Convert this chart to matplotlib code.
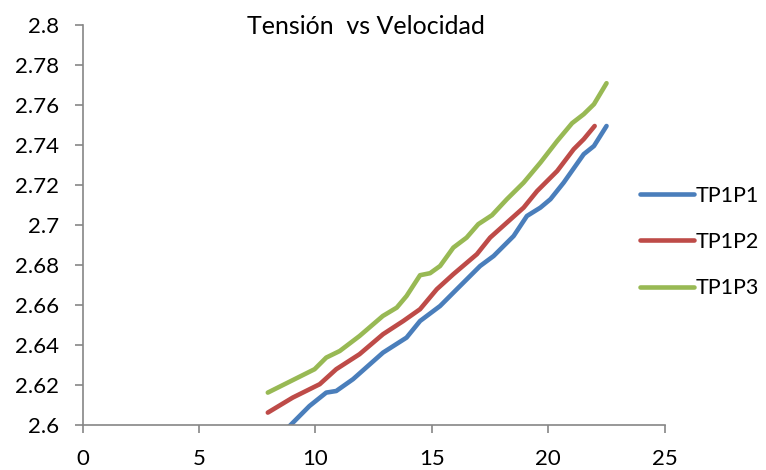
import matplotlib
matplotlib.use('Agg')
import matplotlib.pyplot as plt
from matplotlib.ticker import FuncFormatter

# datos
x_p1 = [8.0, 9.75, 10.47, 10.9, 11.62, 12.91, 13.92, 14.5, 15.36, 16.08, 17.08, 17.66,
        18.52, 19.09, 19.67, 20.1, 20.67, 21.53, 21.97, 22.51]
y_p1 = [2.589, 2.6095, 2.6162, 2.617, 2.6229, 2.6362, 2.6437, 2.652, 2.6595, 2.6679, 2.6795, 2.6845,
        2.6945, 2.7045, 2.7087, 2.7129, 2.7212, 2.7354, 2.7395, 2.7495]

x_p2 = [7.96, 9.03, 10.19, 10.9, 11.9, 12.91, 13.78, 14.5, 15.22, 15.93, 16.94, 17.51,
        18.23, 18.95, 19.53, 20.39, 21.1, 21.53, 22.0]
y_p2 = [2.6062, 2.6137, 2.6204, 2.6279, 2.6354, 2.6454, 2.652, 2.6579, 2.6679, 2.6754, 2.6854, 2.6937,
        2.7012, 2.7087, 2.717, 2.727, 2.7379, 2.7429, 2.7495]

x_p3 = [7.96, 9.97, 10.47, 11.05, 11.9, 12.9, 13.5, 13.92, 14.5, 14.93, 15.36, 15.93, 16.5,
        17.0, 17.59, 18.23, 18.95, 19.67, 20.39, 21.03, 21.53, 21.97, 22.51]
y_p3 = [2.6162, 2.6279, 2.6337, 2.637, 2.6445, 2.6545, 2.6587, 2.6645, 2.6749, 2.6759, 2.6795, 2.6887, 2.6937,
        2.7004, 2.7049, 2.7129, 2.7212, 2.7312, 2.742, 2.7509, 2.7554, 2.7604, 2.7709]

series = [('TP1P1', x_p1, y_p1, '#4a7ebb'),
          ('TP1P2', x_p2, y_p2, '#be4b48'),
          ('TP1P3', x_p3, y_p3, '#98b954')]

plt.rcParams['font.family'] = ['Lato', 'DejaVu Sans']

fig = plt.figure(figsize=(7.66, 4.70), dpi=100)
# ejes: x de 82.5 a 664.5 px, y de 25 a 425 px
ax = fig.add_axes([82.5 / 766, 1 - 425 / 470, 582 / 766, 400 / 470])

for name, xs, ys, c in series:
    ax.plot(xs, ys, color=c, lw=3.3, label=name, solid_capstyle='round', solid_joinstyle='round')

ax.set_xlim(0, 25)
ax.set_ylim(2.6, 2.8)
ax.set_xticks(range(0, 26, 5))
ax.set_yticks([2.6 + 0.02 * i for i in range(11)])
ax.yaxis.set_major_formatter(FuncFormatter(lambda v, p: '{:g}'.format(round(v, 2))))

for s in ['top', 'right']:
    ax.spines[s].set_visible(False)
for s in ['left', 'bottom']:
    ax.spines[s].set_color('#868686')
    ax.spines[s].set_linewidth(1.2)
ax.tick_params(colors='#868686', labelcolor='black', labelsize=16, length=6, width=1.2)
ax.tick_params(axis='y', pad=11)
ax.tick_params(axis='x', pad=11)

fig.text(366 / 766, 1 - 27 / 470, 'Tensión  vs Velocidad', ha='center', va='center', fontsize=18)

fig.legend(loc='center left', bbox_to_anchor=(640 / 766, 1 - 242 / 470), frameon=False,
           fontsize=15.5, handlelength=2.5, handletextpad=0.1, labelspacing=1.23,
           borderpad=0, borderaxespad=0)

plt.savefig('out.png', dpi=100)
